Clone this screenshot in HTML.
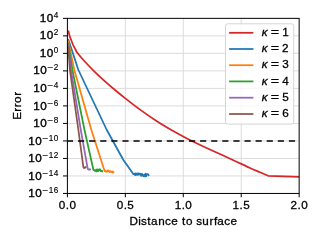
<!DOCTYPE html>
<html><head><meta charset="utf-8"><title>Error vs distance</title>
<style>html,body{margin:0;padding:0;background:#fff;width:320px;height:240px;overflow:hidden}svg{display:block}text{font-family:"Liberation Sans",sans-serif;fill:#000;stroke:#000;stroke-width:0.3px;white-space:pre}</style></head><body>
<svg width="320" height="240" viewBox="0 0 320 240">
<filter id="f" x="0" y="0" width="320" height="240" filterUnits="userSpaceOnUse"><feOffset dx="0" dy="0"/></filter>
<path d="M125.34 18.35V193.45M183.27 18.35V193.45M241.21 18.35V193.45M67.4 35.86H299.15M67.4 53.37H299.15M67.4 70.88H299.15M67.4 88.39H299.15M67.4 105.90H299.15M67.4 123.41H299.15M67.4 140.92H299.15M67.4 158.43H299.15M67.4 175.94H299.15" stroke="#dcdcdc" stroke-width="1.0" fill="none"/>
<clipPath id="c"><rect x="67.4" y="18.35" width="231.75" height="175.10"/></clipPath>
<g clip-path="url(#c)" fill="none" stroke-width="1.75" stroke-linejoin="round">
<path d="M68.30 30.50C68.53 31.46 69.20 34.62 69.70 36.25C70.20 37.88 70.73 38.79 71.30 40.25C71.87 41.71 72.40 43.46 73.10 45.00C73.80 46.54 74.77 48.16 75.50 49.50C76.23 50.84 75.92 50.99 77.50 53.04C79.08 55.09 82.08 58.61 85.00 61.78C87.92 64.95 91.67 68.82 95.00 72.09C98.33 75.36 101.67 78.39 105.00 81.38C108.33 84.36 111.67 87.21 115.00 90.00C118.33 92.79 121.67 95.49 125.00 98.13C128.33 100.77 131.67 103.33 135.00 105.83C138.33 108.33 141.67 110.75 145.00 113.10C148.33 115.45 151.67 117.72 155.00 119.91C158.33 122.10 161.67 124.21 165.00 126.24C168.33 128.27 171.67 130.22 175.00 132.09C178.33 133.96 181.67 135.75 185.00 137.48C188.33 139.21 191.67 140.87 195.00 142.49C198.33 144.11 200.83 145.29 205.00 147.22C209.17 149.15 215.00 151.78 220.00 154.07C225.00 156.36 230.00 158.65 235.00 160.96C240.00 163.28 245.83 166.07 250.00 167.96C254.17 169.85 256.97 170.99 260.00 172.30C263.03 173.61 266.83 175.22 268.20 175.80L299 176.95" stroke="#d62728"/>
<path d="M68.20 39.00 L78.40 70.00 L106.80 130.00 L123.40 160.00 L133.50 174.20 L134.05 174.09 L134.60 173.60 L135.15 175.12 L135.70 173.40 L136.25 174.82 L136.80 174.33 L137.35 173.43 L137.90 174.80 L138.45 173.41 L139.00 174.62 L139.55 173.55 L140.10 173.63 L140.65 174.65 L141.20 175.88 L141.75 173.80 L142.30 174.12 L142.85 175.35 L143.40 176.33 L143.95 175.24 L144.50 174.72 L145.05 176.48 L145.60 173.72 L146.15 176.17 L146.70 174.49 L147.25 174.07 L147.80 174.02 L148.35 174.61 L148.75 176.15" stroke="#1f77b4"/>
<path d="M68.20 40.50 L74.30 70.00 L91.40 130.00 L104.60 171.00 L105.15 170.51 L105.70 171.59 L106.25 171.77 L106.80 171.12 L107.35 171.61 L107.90 170.39 L108.45 170.41 L109.00 170.83 L109.55 172.10 L110.10 171.48 L110.65 171.22 L111.20 171.97 L111.75 171.66 L112.30 171.30 L112.85 172.62 L113.40 172.41 L113.50 171.23" stroke="#ff7f0e"/>
<path d="M68.20 42.80 L72.40 70.00 L84.50 130.00 L93.40 169.80 L93.95 170.23 L94.50 170.14 L95.05 171.09 L95.60 170.75 L96.15 169.64 L96.70 171.47 L97.25 169.27 L97.80 170.09 L98.35 171.00 L98.90 169.47 L99.45 170.38 L100.00 169.25 L100.55 170.92 L101.10 171.21 L101.65 170.75 L102.20 171.57 L102.25 170.12" stroke="#2ca02c"/>
<path d="M68.20 44.50 L71.00 70.00 L80.80 130.00 L87.70 168.60 L88.25 169.59 L88.80 169.41 L89.35 169.45 L89.90 169.21 L90.40 170.28" stroke="#9467bd"/>
<path d="M68.20 46.00 L69.90 70.00 L78.40 130.00 L83.40 167.30 L83.95 168.14 L84.50 167.51 L85.05 167.79 L85.60 166.97 L86.00 167.88" stroke="#8c564b"/>
<path d="M67.4 140.92H299.15" stroke="#000" stroke-width="1.45" stroke-dasharray="6.15 4.95" stroke-dashoffset="0.5"/>
</g>
<path d="M67.40 193.45v3.8M125.34 193.45v3.8M183.27 193.45v3.8M241.21 193.45v3.8M299.15 193.45v3.8M67.4 18.35h-4.4M67.4 35.86h-4.4M67.4 53.37h-4.4M67.4 70.88h-4.4M67.4 88.39h-4.4M67.4 105.90h-4.4M67.4 123.41h-4.4M67.4 140.92h-4.4M67.4 158.43h-4.4M67.4 175.94h-4.4M67.4 193.45h-4.4" stroke="#000" stroke-width="1.0" fill="none"/>
<rect x="67.4" y="18.35" width="231.75" height="175.10" fill="none" stroke="#000" stroke-width="1.0"/>
<g filter="url(#f)">
<text x="58.84 65.77 69.44" y="209.30" font-size="11.70">0.0</text>
<text x="116.78 123.71 127.34" y="209.30" font-size="11.70">0.5</text>
<text x="174.66 181.64 185.32" y="209.30" font-size="11.70">1.0</text>
<text x="232.60 239.58 243.21" y="209.30" font-size="11.70">1.5</text>
<text x="290.45 297.52 301.19" y="209.30" font-size="11.70">2.0</text>
<text x="39.68 46.81" y="21.95" font-size="11.70" style="stroke-width:.38px">10</text>
<text x="53.85" y="17.95" font-size="8.19" style="stroke-width:.15px">4</text>
<text x="39.68 46.81" y="39.46" font-size="11.70" style="stroke-width:.38px">10</text>
<text x="53.74" y="35.46" font-size="8.19" style="stroke-width:.15px">2</text>
<text x="39.68 46.81" y="56.97" font-size="11.70" style="stroke-width:.38px">10</text>
<text x="53.85" y="52.97" font-size="8.19" style="stroke-width:.15px">0</text>
<text x="33.17 40.30" y="74.48" font-size="11.70" style="stroke-width:.38px">10</text>
<text x="47.14 53.74" y="70.48" font-size="8.19" style="stroke-width:.15px"> 2</text>
<text x="47.47" y="70.48" font-size="8.19" textLength="5.85" lengthAdjust="spacingAndGlyphs" style="stroke-width:.15px">−</text>
<text x="33.17 40.30" y="91.99" font-size="11.70" style="stroke-width:.38px">10</text>
<text x="47.14 53.85" y="87.99" font-size="8.19" style="stroke-width:.15px"> 4</text>
<text x="47.47" y="87.99" font-size="8.19" textLength="5.85" lengthAdjust="spacingAndGlyphs" style="stroke-width:.15px">−</text>
<text x="33.17 40.30" y="109.50" font-size="11.70" style="stroke-width:.38px">10</text>
<text x="47.14 53.85" y="105.50" font-size="8.19" style="stroke-width:.15px"> 6</text>
<text x="47.47" y="105.50" font-size="8.19" textLength="5.85" lengthAdjust="spacingAndGlyphs" style="stroke-width:.15px">−</text>
<text x="33.17 40.30" y="127.01" font-size="11.70" style="stroke-width:.38px">10</text>
<text x="47.14 53.85" y="123.01" font-size="8.19" style="stroke-width:.15px"> 8</text>
<text x="47.47" y="123.01" font-size="8.19" textLength="5.85" lengthAdjust="spacingAndGlyphs" style="stroke-width:.15px">−</text>
<text x="28.22 35.35" y="144.52" font-size="11.70" style="stroke-width:.38px">10</text>
<text x="42.19 48.86 53.85" y="140.52" font-size="8.19" style="stroke-width:.15px"> 10</text>
<text x="42.52" y="140.52" font-size="8.19" textLength="5.85" lengthAdjust="spacingAndGlyphs" style="stroke-width:.15px">−</text>
<text x="28.22 35.35" y="162.03" font-size="11.70" style="stroke-width:.38px">10</text>
<text x="42.19 48.86 53.74" y="158.03" font-size="8.19" style="stroke-width:.15px"> 12</text>
<text x="42.52" y="158.03" font-size="8.19" textLength="5.85" lengthAdjust="spacingAndGlyphs" style="stroke-width:.15px">−</text>
<text x="28.22 35.35" y="179.54" font-size="11.70" style="stroke-width:.38px">10</text>
<text x="42.19 48.86 53.85" y="175.54" font-size="8.19" style="stroke-width:.15px"> 14</text>
<text x="42.52" y="175.54" font-size="8.19" textLength="5.85" lengthAdjust="spacingAndGlyphs" style="stroke-width:.15px">−</text>
<text x="28.22 35.35" y="197.05" font-size="11.70" style="stroke-width:.38px">10</text>
<text x="42.19 48.86 53.85" y="193.05" font-size="8.19" style="stroke-width:.15px"> 16</text>
<text x="42.52" y="193.05" font-size="8.19" textLength="5.85" lengthAdjust="spacingAndGlyphs" style="stroke-width:.15px">−</text>
<text x="129.44 138.18 141.06 147.33 150.89 158.26 165.00 171.30 177.95 182.01 185.99 192.64 196.22 202.20 209.55 214.04 217.21 224.28 230.58" y="224.70" font-size="11.70">Distance to surface</text>
<g transform="translate(21.2 105.6) rotate(-90)">
<text x="-14.19 -6.19 -1.62 2.54 9.74" y="0.00" font-size="11.70">Error</text>
</g>
</g>
<rect x="225.5" y="23.8" width="68.2" height="100.3" rx="2.2" ry="2.2" fill="#fff" fill-opacity="0.8" stroke="#ccc" stroke-opacity="0.8" stroke-width="1.0"/>
<path d="M229.1 32.8H253.4" stroke="#d62728" stroke-width="1.75" fill="none"/>
<path d="M229.1 49.0H253.4" stroke="#1f77b4" stroke-width="1.75" fill="none"/>
<path d="M229.1 65.2H253.4" stroke="#ff7f0e" stroke-width="1.75" fill="none"/>
<path d="M229.1 81.4H253.4" stroke="#2ca02c" stroke-width="1.75" fill="none"/>
<path d="M229.1 97.7H253.4" stroke="#9467bd" stroke-width="1.75" fill="none"/>
<path d="M229.1 114.0H253.4" stroke="#8c564b" stroke-width="1.75" fill="none"/>
<g filter="url(#f)">
<text x="261.76" y="36.00" font-size="11.70" font-style="italic">κ</text>
<text x="270.80" y="36.00" font-size="11.70" textLength="8.36" lengthAdjust="spacingAndGlyphs">=</text>
<text x="282.17" y="36.00" font-size="11.70">1</text>
<text x="261.76" y="52.20" font-size="11.70" font-style="italic">κ</text>
<text x="270.80" y="52.20" font-size="11.70" textLength="8.36" lengthAdjust="spacingAndGlyphs">=</text>
<text x="282.08" y="52.20" font-size="11.70">2</text>
<text x="261.76" y="68.40" font-size="11.70" font-style="italic">κ</text>
<text x="270.80" y="68.40" font-size="11.70" textLength="8.36" lengthAdjust="spacingAndGlyphs">=</text>
<text x="282.24" y="68.40" font-size="11.70">3</text>
<text x="261.76" y="84.60" font-size="11.70" font-style="italic">κ</text>
<text x="270.80" y="84.60" font-size="11.70" textLength="8.36" lengthAdjust="spacingAndGlyphs">=</text>
<text x="282.23" y="84.60" font-size="11.70">4</text>
<text x="261.76" y="100.90" font-size="11.70" font-style="italic">κ</text>
<text x="270.80" y="100.90" font-size="11.70" textLength="8.36" lengthAdjust="spacingAndGlyphs">=</text>
<text x="282.19" y="100.90" font-size="11.70">5</text>
<text x="261.76" y="117.20" font-size="11.70" font-style="italic">κ</text>
<text x="270.80" y="117.20" font-size="11.70" textLength="8.36" lengthAdjust="spacingAndGlyphs">=</text>
<text x="282.23" y="117.20" font-size="11.70">6</text>
</g>
</svg></body></html>
